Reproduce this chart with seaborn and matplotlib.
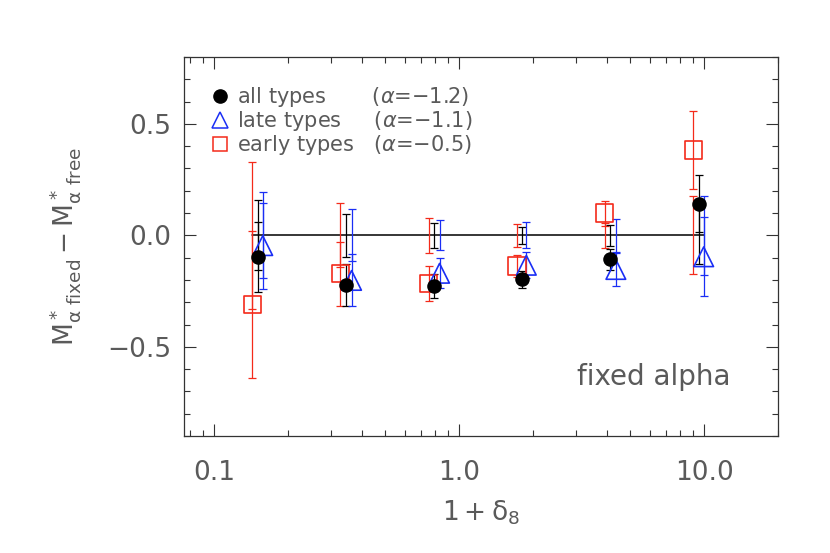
import numpy as np
import pandas as pd
import seaborn as sns
import matplotlib
matplotlib.use("Agg")
import matplotlib.pyplot as plt
from matplotlib.lines import Line2D
from matplotlib.ticker import MultipleLocator, FixedLocator, FuncFormatter

# values (x = 1+delta_8, y = M*fixed - M*free, err)
x_all = [0.151, 0.346, 0.791, 1.81, 4.14, 9.49]
y_all = [-0.097, -0.223, -0.228, -0.197, -0.108, 0.141]
e_all = [0.157, 0.096, 0.055, 0.037, 0.046, 0.128]

x_late = [0.158, 0.364, 0.832, 1.88, 4.36, 9.95]
y_late = [-0.046, -0.202, -0.170, -0.134, -0.153, -0.096]
e_late = [0.193, 0.117, 0.067, 0.058, 0.073, 0.178]

x_early = [0.1435, 0.328, 0.750, 1.72, 3.92, 9.03]
y_early = [-0.310, -0.172, -0.216, -0.138, 0.099, 0.383]
e_early = [0.330, 0.144, 0.077, 0.051, 0.057, 0.175]

labels = ["all types", "late types", "early types"]
alphas = ["-1.2", "-1.1", "-0.5"]

sns.set_theme(style="ticks")
plt.rcParams["font.family"] = ["DejaVu Sans"]
plt.rcParams["mathtext.fontset"] = "dejavusans"

TXT = "#5a5a5a"
AX = "#333333"
RED = "#f42a1a"
BLUE = "#1a2ef5"

series = [
    ("early", x_early, y_early, e_early, RED),
    ("all", x_all, y_all, e_all, "black"),
    ("late", x_late, y_late, e_late, BLUE),
]

fig = plt.figure(figsize=(8.3, 5.53), dpi=100)
ax = fig.add_axes([184 / 830, 1 - 436 / 553, 594 / 830, 379 / 553])

# zero reference line spanning the data
xs = x_early + x_all + x_late
zero = pd.DataFrame({"x": [min(xs), max(xs)], "y": [0.0, 0.0]})
sns.lineplot(data=zero, x="x", y="y", color="black", lw=1.1, ax=ax, zorder=2)

# two bars per point: error around zero and around the measured value
for name, x, y, e, c in series:
    ax.errorbar(x, np.zeros(len(x)), yerr=e, fmt="none", ecolor=c,
                elinewidth=0.9, capsize=2.8, capthick=0.9, zorder=3)
    ax.errorbar(x, y, yerr=e, fmt="none", ecolor=c,
                elinewidth=0.9, capsize=2.8, capthick=0.9, zorder=3)

df_early = pd.DataFrame({"x": x_early, "y": y_early})
df_all = pd.DataFrame({"x": x_all, "y": y_all})
df_late = pd.DataFrame({"x": x_late, "y": y_late})

sns.scatterplot(data=df_early, x="x", y="y", marker="s", s=160,
                facecolor="none", edgecolor=RED, linewidth=1.2, ax=ax, zorder=4)
sns.scatterplot(data=df_late, x="x", y="y", marker="^", s=200,
                facecolor="none", edgecolor=BLUE, linewidth=1.2, ax=ax, zorder=4)
sns.scatterplot(data=df_all, x="x", y="y", marker="o", s=110,
                color="black", edgecolor="black", linewidth=0, ax=ax, zorder=5)

ax.set_xscale("log")
ax.set_xlim(0.0754, 20.0)
ax.set_ylim(-0.9, 0.8)

ax.xaxis.set_major_locator(FixedLocator([0.1, 1.0, 10.0]))
ax.xaxis.set_major_formatter(FuncFormatter(lambda v, p: f"{v:.1f}"))
ax.yaxis.set_major_locator(MultipleLocator(0.5))
ax.yaxis.set_minor_locator(MultipleLocator(0.1))
ax.yaxis.set_major_formatter(FuncFormatter(lambda v, p: f"{v:.1f}".replace("-", "\u2212")))

ax.tick_params(which="both", direction="in", top=True, right=True, colors=AX,
               labelcolor=TXT, labelsize=19)
ax.tick_params(which="major", length=8.5, width=0.8)
ax.tick_params(which="minor", length=4.2, width=0.8)
ax.tick_params(axis="x", which="both", pad=17)
ax.tick_params(axis="y", which="both", pad=9)
for sp in ax.spines.values():
    sp.set_color(AX)
    sp.set_linewidth(0.9)

ax.set_xlabel(r"$\mathregular{1+\delta_8}$", fontsize=19, color=TXT)
ax.xaxis.set_label_coords(0.5, -0.165)
ax.xaxis.label.set_va("top")
ax.set_ylabel(r"$\mathregular{M^*_{\alpha\ fixed}-M^*_{\alpha\ free}}$", fontsize=19, color=TXT)
ax.yaxis.set_label_coords(-0.17, 0.5)

ax.text(0.92, 0.135, "fixed alpha", transform=ax.transAxes, ha="right",
        va="baseline", fontsize=20, color=TXT)

gaps = [7, 5, 3]
handles = [
    Line2D([], [], ls="none", marker="o", ms=9.5, color="black"),
    Line2D([], [], ls="none", marker="^", ms=12, mfc="none", mec=BLUE, mew=1.1),
    Line2D([], [], ls="none", marker="s", ms=10.5, mfc="none", mec=RED, mew=1.1),
]
texts = [f"{l}{' ' * g}($\\alpha$=\u2212{a[1:]})" for l, g, a in zip(labels, gaps, alphas)]
leg = ax.legend(handles, texts, loc="upper left", bbox_to_anchor=((212 - 184) / 594, 0.925),
                frameon=False, fontsize=15, handlelength=0.8, handletextpad=0.4,
                labelspacing=0.0, borderpad=0, borderaxespad=0)
for t in leg.get_texts():
    t.set_color(TXT)

fig.savefig("out.png", dpi=100)
